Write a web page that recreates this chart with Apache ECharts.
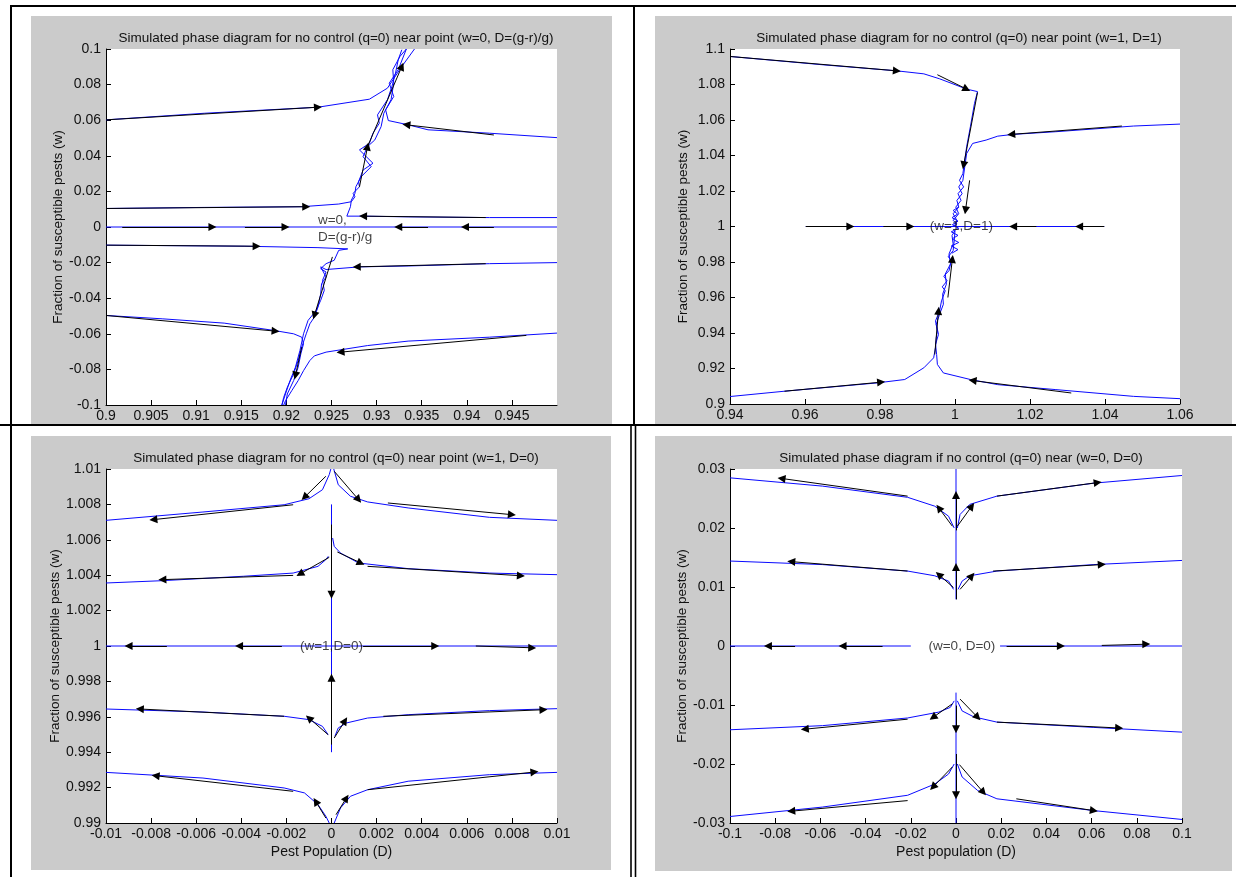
<!DOCTYPE html>
<html>
<head>
<meta charset="utf-8">
<script src="https://cdn.jsdelivr.net/npm/echarts@6/dist/echarts.min.js"></script>
<style>html,body{margin:0;padding:0;background:#fff}#c{width:1236px;height:877px}</style>
</head>
<body>
<div id="c"></div>
<script>
// ---------------- Titles & axis names ----------------
const TITLES = [
  'Simulated phase diagram for no control (q=0) near point (w=0, D=(g-r)/g)',
  'Simulated phase diagram for no control (q=0) near point (w=1, D=1)',
  'Simulated phase diagram for no control (q=0) near point (w=1, D=0)',
  'Simulated phase diagram if no control (q=0) near (w=0, D=0)'
];
const Y_NAME = 'Fraction of susceptible pests (w)';
const X_NAMES = ['', '', 'Pest Population (D)', 'Pest population (D)'];

// axis ranges [min, max, interval]
const X_RANGES = [[0.9, 0.95, 0.005], [0.94, 1.06, 0.02], [-0.01, 0.01, 0.002], [-0.1, 0.1, 0.02]];
const Y_RANGES = [[-0.1, 0.1, 0.02], [0.9, 1.1, 0.02], [0.99, 1.01, 0.002], [-0.03, 0.03, 0.01]];

// ---------------- Panel 1: near (w=0, D=(g-r)/g) ----------------
const P1_BLUE = [
  [[0.9,0.0602],[0.9109,0.0639],[0.9235,0.0673],[0.9292,0.0718],[0.9312,0.0780],[0.9328,0.0902],[0.9342,0.1]],
  [[0.95,0.0502],[0.9425,0.0527],[0.9357,0.0546],[0.9335,0.0574],[0.9313,0.0598],[0.9310,0.0658],[0.9319,0.0733],[0.9314,0.0808],[0.9324,0.0884],[0.9333,0.1]],
  [[0.9,0.0104],[0.9109,0.0110],[0.9217,0.0114],[0.9258,0.0129],[0.9272,0.0142],[0.9276,0.0170],[0.9274,0.0189],[0.9281,0.0226],[0.9280,0.0254],[0.9285,0.0320],[0.9296,0.0358],[0.9281,0.0433],[0.9292,0.0470],[0.9296,0.0527],[0.9303,0.0583],[0.9301,0.0630],[0.9312,0.0715],[0.9317,0.0790],[0.9321,0.0865],[0.9324,0.0940],[0.9328,0.0996]],
  [[0.95,0.0053],[0.9425,0.0053],[0.9335,0.0057],[0.9285,0.0061],[0.9267,0.0061],[0.9271,0.0114],[0.9272,0.0151],[0.9276,0.0189],[0.9277,0.0226],[0.9283,0.0283],[0.9294,0.0339],[0.9285,0.0395],[0.9290,0.0452],[0.9298,0.0489],[0.9305,0.0564],[0.9308,0.0639],[0.9316,0.0715],[0.9319,0.0808],[0.9318,0.0884],[0.9326,0.0959],[0.9333,0.1]],
  [[0.9,0],[0.95,0]],
  [[0.9,-0.0102],[0.9154,-0.0108],[0.9235,-0.0116],[0.9268,-0.0123],[0.9258,-0.0131],[0.9253,-0.0187],[0.9244,-0.0206],[0.9238,-0.0234],[0.9244,-0.0253],[0.9240,-0.0300],[0.9242,-0.0356],[0.9238,-0.0412],[0.9233,-0.0469],[0.9224,-0.0525],[0.9219,-0.0600],[0.9215,-0.0694],[0.9210,-0.0788],[0.9204,-0.0863],[0.9199,-0.0938],[0.9195,-0.1]],
  [[0.95,-0.0200],[0.9425,-0.0206],[0.9335,-0.0219],[0.9281,-0.0224],[0.9244,-0.0239],[0.9238,-0.0224],[0.9244,-0.0281],[0.9239,-0.0318],[0.9238,-0.0375],[0.9235,-0.0450],[0.9231,-0.0506],[0.9226,-0.0544],[0.9222,-0.0600],[0.9217,-0.0675],[0.9213,-0.0750],[0.9208,-0.0825],[0.9201,-0.0901],[0.9197,-0.0957],[0.9195,-0.1]],
  [[0.9,-0.0497],[0.9063,-0.0516],[0.9131,-0.0540],[0.9186,-0.0581],[0.9208,-0.0600],[0.9217,-0.0619],[0.9219,-0.0656],[0.9216,-0.0713],[0.9213,-0.0788],[0.9208,-0.0863],[0.9201,-0.0938],[0.9199,-0.1]],
  [[0.95,-0.0596],[0.9425,-0.0619],[0.9335,-0.0641],[0.9290,-0.0666],[0.9244,-0.0703],[0.9231,-0.0724],[0.9226,-0.0750],[0.9219,-0.0807],[0.9213,-0.0863],[0.9206,-0.0919],[0.9199,-0.0976],[0.9197,-0.1]]
];
const P1_ARROWS = [
  [[0.9,0.0602],[0.9235,0.0673]],
  [[0.9290,0.0452],[0.9328,0.0902]],
  [[0.9281,0.0226],[0.9290,0.0452]],
  [[0.9,0.0104],[0.9222,0.0114]],
  [[0.9421,0.0053],[0.9285,0.0061]],
  [[0.9018,0],[0.9118,0]],
  [[0.9154,0],[0.9199,0]],
  [[0.9430,0],[0.9398,0]],
  [[0.9357,0],[0.9324,0]],
  [[0.9,-0.0102],[0.9167,-0.0108]],
  [[0.9421,-0.0206],[0.9278,-0.0224]],
  [[0.9430,0.0517],[0.9333,0.0574]],
  [[0.9,-0.0497],[0.9188,-0.0585]],
  [[0.9466,-0.0609],[0.9260,-0.0703]],
  [[0.9251,-0.0168],[0.9231,-0.0497]],
  [[0.9217,-0.0675],[0.9210,-0.0835]]
];
const P1_NOTE_TEXT = ['w=0,', 'D=(g-r)/g'];
const P1_NOTE_POS = [[0.9235, 0.0036], [0.9235, -0.0059]];

// ---------------- Panel 2: near (w=1, D=1) ----------------
const P2_BLUE = [
  [[0.94,1.0958],[0.9648,1.0911],[0.9845,1.0877],[0.9917,1.0860],[0.9959,1.0832],[1.0031,1.0774],[1.0060,1.0760],[1.0052,1.0694],[1.0041,1.0562],[1.0031,1.0449],[1.0026,1.0374],[1.0021,1.0298],[1.0012,1.0260],[1.0023,1.0223],[1.0008,1.0185],[1.0016,1.0147],[1.0002,1.0109],[1.0010,1.0072],[0.9995,1.0034],[1.0005,1.0015],[1.0,1.0]],
  [[1.06,1.0577],[1.0476,1.0566],[1.0269,1.0534],[1.0155,1.0519],[1.0114,1.0509],[1.0083,1.0487],[1.0047,1.0468],[1.0031,1.0411],[1.0026,1.0336],[1.0021,1.0260],[1.0010,1.0223],[1.0019,1.0185],[1.0005,1.0147],[1.0010,1.0109],[0.9995,1.0072],[1.0005,1.0034],[0.9998,1.0]],
  [[0.94,0.9042],[0.9545,0.9072],[0.9793,0.9119],[0.9866,0.9138],[0.9917,0.9204],[0.9943,0.9260],[0.9948,0.9317],[0.9950,0.9374],[0.9953,0.9411],[0.9948,0.9468],[0.9959,0.9525],[0.9964,0.9581],[0.9974,0.9638],[0.9966,0.9660],[0.9979,0.9694],[0.9970,0.9720],[0.9984,0.9751],[0.9990,0.9808],[0.9982,0.9830],[0.9995,0.9864],[0.9998,0.9921],[1.0,0.9977]],
  [[1.06,0.9030],[1.0476,0.9043],[1.0269,0.9081],[1.0114,0.9109],[1.0041,0.9138],[0.9969,0.9175],[0.9953,0.9223],[0.9951,0.9279],[0.9948,0.9336],[0.9956,0.9392],[0.9950,0.9449],[0.9959,0.9506],[0.9969,0.9562],[0.9967,0.9619],[0.9977,0.9675],[0.9974,0.9732],[0.9988,0.9789],[0.9984,0.9845],[0.9995,0.9902],[0.9992,0.9949],[1.0,0.9977]],
  [[0.9602,1.0],[1.0398,1.0]],
  [[0.9992,0.985],[1.0008,0.987],[0.9990,0.989],[1.0010,0.991],[0.9992,0.993],[1.0008,0.995],[0.9990,0.997],[1.0010,0.999],[0.9993,1.001],[1.0008,1.003],[0.9992,1.005],[1.0007,1.007],[0.9995,1.009],[1.0010,1.011]]
];
const P2_ARROWS = [
  [[0.94,1.0958],[0.9845,1.0877]],
  [[0.9953,1.0855],[1.0031,1.0774]],
  [[1.0060,1.0755],[1.0023,1.0345]],
  [[1.0039,1.0260],[1.0028,1.0091]],
  [[1.0445,1.0566],[1.0150,1.0519]],
  [[0.9602,1.0],[0.9721,1.0]],
  [[0.9809,1.0],[0.9881,1.0]],
  [[1.0217,1.0],[1.0155,1.0]],
  [[1.0398,1.0],[1.0331,1.0]],
  [[0.9545,0.9072],[0.9803,0.9123]],
  [[1.0310,0.9062],[1.0047,0.9132]],
  [[0.9946,0.9279],[0.9956,0.9525]],
  [[0.9981,0.9600],[0.9993,0.9817]]
];
const P2_NOTE_TEXT = ['(w=1,D=1)'];
const P2_NOTE_POS = [[1.0017, 1.0]];

// ---------------- Panel 3: near (w=1, D=0) ----------------
const P3_BLUE = [
  [[-0.01,1.0071],[-0.0057,1.00757],[-0.0021,1.00798],[-0.0010,1.00832],[-0.0004,1.00883],[-0.0001,1.00968],[-0.00003,1.01]],
  [[0.01,1.0071],[0.0070,1.00727],[0.0034,1.0078],[0.0016,1.00814],[0.00084,1.00846],[0.0003,1.00911],[0.0001,1.01]],
  [[-0.01,1.00356],[-0.0075,1.00369],[-0.0039,1.00394],[-0.0017,1.00412],[-0.0006,1.0045],[-0.00025,1.00488],[-0.00014,1.00507]],
  [[0.01,1.00403],[0.0070,1.00412],[0.0034,1.00437],[0.0012,1.00469],[0.0004,1.00525],[0.00012,1.00563],[0.00005,1.0061]],
  [[0,1.008],[0,0.994]],
  [[-0.01,1.0],[0.01,1.0]],
  [[-0.01,0.99644],[-0.0057,0.99627],[-0.0021,0.99603],[-0.0010,0.99584],[-0.0004,0.99546],[-0.00015,0.99499]],
  [[0.01,0.99646],[0.0070,0.99635],[0.0034,0.99612],[0.0016,0.99593],[0.00066,0.99565],[0.0003,0.99537],[0.00015,0.9949]],
  [[-0.01,0.99286],[-0.0057,0.99254],[-0.0021,0.99198],[-0.0012,0.9917],[-0.0006,0.99104],[-0.00025,0.99038],[-0.0001,0.99]],
  [[0.01,0.99286],[0.0070,0.99273],[0.0034,0.99236],[0.0016,0.99188],[0.00084,0.99151],[0.0004,0.99085],[0.00012,0.99]]
];
const P3_ARROWS = [
  [[-0.00025,1.00959],[-0.0012,1.0084]],
  [[0.00012,1.00987],[0.0012,1.00827]],
  [[0.0025,1.00808],[0.0080,1.00742]],
  [[-0.0017,1.00798],[-0.0079,1.00714]],
  [[-0.0001,1.00501],[-0.0014,1.00407]],
  [[0.00026,1.00531],[0.0013,1.00469]],
  [[0.0016,1.0045],[0.0084,1.00397]],
  [[-0.0017,1.00399],[-0.0075,1.00375]],
  [[0,1.00686],[0,1.0029]],
  [[0,0.99443],[0,0.9982]],
  [[-0.0073,1.0],[-0.0090,1.0]],
  [[-0.0022,1.0],[-0.0041,1.0]],
  [[0.0014,1.0],[0.0046,1.0]],
  [[0.0064,1.0],[0.0089,0.9999]],
  [[-0.00015,0.99499],[-0.0010,0.99593]],
  [[0.00012,0.9948],[0.0006,0.99578]],
  [[-0.0021,0.99603],[-0.0085,0.99644]],
  [[0.0023,0.99603],[0.0094,0.9964]],
  [[-0.00025,0.99028],[-0.0007,0.99122]],
  [[0.0002,0.99047],[0.00066,0.99141]],
  [[-0.0017,0.99179],[-0.0078,0.99267]],
  [[0.0016,0.99188],[0.0090,0.99288]]
];
const P3_NOTE_TEXT = ['(w=1,D=0)'];
const P3_NOTE_POS = [[0.0, 1.0]];

// ---------------- Panel 4: near (w=0, D=0) ----------------
const P4_BLUE = [
  [[-0.1,0.0285],[-0.0591,0.0271],[-0.0214,0.0252],[-0.0094,0.0237],[-0.0033,0.0220],[-0.0008,0.0200]],
  [[0.1,0.0289],[0.0610,0.0276],[0.0181,0.0254],[0.0061,0.0240],[0.0018,0.0223],[0.0006,0.0200]],
  [[0,0.03],[0,0.0079]],
  [[-0.1,0.0144],[-0.0591,0.0138],[-0.0214,0.0127],[-0.0094,0.0119],[-0.0033,0.0110],[-0.0011,0.0096]],
  [[0.1,0.0145],[0.0610,0.0138],[0.0181,0.0127],[0.0061,0.0119],[0.0027,0.0110],[0.0009,0.0096]],
  [[-0.1,0],[-0.02,0]],
  [[0.0195,0],[0.1,0]],
  [[-0.1,-0.0142],[-0.0591,-0.0135],[-0.0214,-0.0122],[-0.0076,-0.0112],[-0.0025,-0.0104],[-0.0008,-0.0093]],
  [[0.1,-0.0146],[0.0610,-0.0138],[0.0181,-0.0129],[0.0078,-0.0120],[0.0027,-0.0110],[0.0006,-0.0093]],
  [[0,-0.0079],[0,-0.03]],
  [[-0.1,-0.0289],[-0.0591,-0.0273],[-0.0214,-0.0253],[-0.0094,-0.0234],[-0.0033,-0.0217],[-0.0008,-0.0200]],
  [[0.1,-0.0294],[0.0610,-0.0279],[0.0181,-0.0259],[0.0096,-0.0245],[0.0027,-0.0222],[0.0006,-0.0200]]
];
const P4_ARROWS = [
  [[0.0181,0.0254],[0.0627,0.0277]],
  [[-0.0214,0.0254],[-0.0772,0.0284]],
  [[-0.0016,0.0203],[-0.0076,0.0234]],
  [[0.0006,0.0203],[0.0070,0.0237]],
  [[0,0.0196],[0,0.0256]],
  [[-0.0214,0.0127],[-0.0729,0.0143]],
  [[0.0164,0.0127],[0.0645,0.0138]],
  [[-0.0011,0.0099],[-0.0076,0.0121]],
  [[0.0018,0.0096],[0.0070,0.0119]],
  [[0,0.0079],[0,0.0134]],
  [[-0.0712,0],[-0.0832,0]],
  [[-0.0325,0],[-0.0502,0]],
  [[0.0224,0],[0.0464,0]],
  [[0.0645,0.0001],[0.0842,0.0003]],
  [[-0.0214,-0.0124],[-0.0669,-0.0141]],
  [[0.0181,-0.0129],[0.0722,-0.0139]],
  [[-0.0016,-0.0098],[-0.0102,-0.0121]],
  [[0.0018,-0.0090],[0.0096,-0.0121]],
  [[0,-0.0101],[0,-0.0141]],
  [[-0.0214,-0.0262],[-0.0729,-0.0280]],
  [[0.0267,-0.0259],[0.0610,-0.0279]],
  [[-0.0016,-0.0205],[-0.0102,-0.0239]],
  [[0.0015,-0.0201],[0.0121,-0.0248]],
  [[0,-0.0183],[0,-0.0253]]
];
const P4_NOTE_TEXT = ['(w=0, D=0)'];
const P4_NOTE_POS = [[0.0026, 0.0]];

// ---------------- Layout ----------------
const GRIDS = [
  {left: 106, top: 49, width: 451, height: 356},
  {left: 730, top: 49, width: 450, height: 355},
  {left: 106, top: 469, width: 451, height: 354},
  {left: 730, top: 469, width: 452, height: 354}
];
const TITLE_POS = [[331, 26], [954, 26], [331, 446], [956, 446]];
const PANEL_BG = [[31, 16, 581, 408], [655, 16, 577, 408], [31, 436, 580, 434], [655, 436, 577, 435]];

const FONT = '"Liberation Sans", Arial, Helvetica, sans-serif';
const fmt = v => String(+(+v).toFixed(6));

const panels = [
  {blue: P1_BLUE, arrows: P1_ARROWS, txt: P1_NOTE_TEXT, pos: P1_NOTE_POS, align: 'left'},
  {blue: P2_BLUE, arrows: P2_ARROWS, txt: P2_NOTE_TEXT, pos: P2_NOTE_POS, align: 'center'},
  {blue: P3_BLUE, arrows: P3_ARROWS, txt: P3_NOTE_TEXT, pos: P3_NOTE_POS, align: 'center'},
  {blue: P4_BLUE, arrows: P4_ARROWS, txt: P4_NOTE_TEXT, pos: P4_NOTE_POS, align: 'center'}
];

const series = [];
panels.forEach((p, i) => {
  p.blue.forEach(c => series.push({
    type: 'line', xAxisIndex: i, yAxisIndex: i, data: c, symbol: 'none', showSymbol: false,
    lineStyle: {color: '#0a0aff', width: 1}, itemStyle: {color: '#0a0aff'},
    silent: true, animation: false, z: 3
  }));
  series.push({
    type: 'lines', coordinateSystem: 'cartesian2d', xAxisIndex: i, yAxisIndex: i,
    data: p.arrows.map(a => ({coords: a})),
    symbol: ['none', 'triangle'], symbolSize: 8,
    lineStyle: {color: '#000', width: 1, opacity: 1, curveness: 0},
    itemStyle: {color: '#000'},
    silent: true, animation: false, z: 4
  });
  series.push({
    type: 'scatter', xAxisIndex: i, yAxisIndex: i, symbolSize: 0,
    data: p.pos.map((q, k) => ({value: q, label: {formatter: p.txt[k]}})),
    label: {show: true, position: p.align === 'left' ? 'right' : 'inside', distance: 0,
      color: '#111', fontSize: 13.5, fontFamily: FONT},
    silent: true, animation: false, z: 5
  });
});

const option = {
  animation: false,
  backgroundColor: '#fff',
  title: TITLES.map((t, i) => ({
    text: t, left: TITLE_POS[i][0], top: TITLE_POS[i][1], textAlign: 'center',
    textStyle: {fontSize: 13.5, fontWeight: 'normal', color: '#111', fontFamily: FONT}
  })),
  grid: GRIDS.map(g => Object.assign({show: true, backgroundColor: '#fff', borderWidth: 0, containLabel: false}, g)),
  xAxis: X_RANGES.map((r, i) => ({
    type: 'value', gridIndex: i, min: r[0], max: r[1], interval: r[2],
    axisLine: {show: true, onZero: false, lineStyle: {color: '#000', width: 1}},
    axisTick: {show: true, inside: true, length: 5, lineStyle: {color: '#000'}},
    splitLine: {show: false},
    axisLabel: {color: '#111', fontSize: 14, margin: 4, fontFamily: FONT, formatter: fmt,
      showMaxLabel: i !== 0},
    name: X_NAMES[i], nameLocation: 'middle', nameGap: 22,
    nameTextStyle: {color: '#111', fontSize: 14, fontFamily: FONT}
  })),
  yAxis: Y_RANGES.map((r, i) => ({
    type: 'value', gridIndex: i, min: r[0], max: r[1], interval: r[2],
    axisLine: {show: true, onZero: false, lineStyle: {color: '#000', width: 1}},
    axisTick: {show: true, inside: true, length: 5, lineStyle: {color: '#000'}},
    splitLine: {show: false},
    axisLabel: {color: '#111', fontSize: 14, margin: 5, fontFamily: FONT, formatter: fmt},
    name: Y_NAME, nameLocation: 'middle', nameGap: 40, nameRotate: 90,
    nameTextStyle: {color: '#111', fontSize: 13.5, fontFamily: FONT}
  })),
  graphic: [
    ...PANEL_BG.map(b => ({type: 'rect', z: -10, silent: true,
      shape: {x: b[0], y: b[1], width: b[2], height: b[3]}, style: {fill: '#cbcbcb'}})),
    {type: 'line', z: 100, silent: true, shape: {x1: 10, y1: 6, x2: 1236, y2: 6}, style: {stroke: '#000', lineWidth: 2}},
    {type: 'line', z: 100, silent: true, shape: {x1: 11, y1: 6, x2: 11, y2: 877}, style: {stroke: '#000', lineWidth: 2}},
    {type: 'line', z: 100, silent: true, shape: {x1: 0, y1: 425, x2: 1236, y2: 425}, style: {stroke: '#000', lineWidth: 2}},
    {type: 'line', z: 100, silent: true, shape: {x1: 634, y1: 6, x2: 634, y2: 425}, style: {stroke: '#000', lineWidth: 2}},
    {type: 'line', z: 100, silent: true, shape: {x1: 631, y1: 425, x2: 631, y2: 877}, style: {stroke: '#000', lineWidth: 1.6}},
    {type: 'line', z: 100, silent: true, shape: {x1: 635.5, y1: 425, x2: 635.5, y2: 877}, style: {stroke: '#000', lineWidth: 1.6}}
  ],
  series: series
};

const chart = echarts.init(document.getElementById('c'), null, {renderer: 'canvas'});
chart.setOption(option);
</script>
</body>
</html>
